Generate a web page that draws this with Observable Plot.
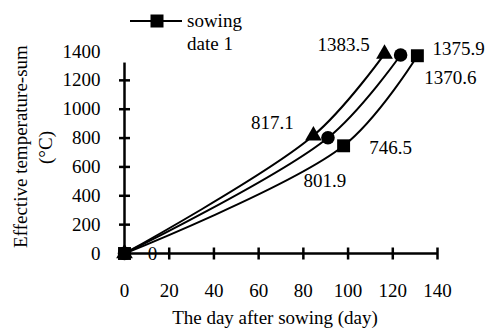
<!DOCTYPE html>
<html>
<head>
<meta charset="utf-8">
<script src="https://cdn.jsdelivr.net/npm/d3@7"></script>
<script src="https://cdn.jsdelivr.net/npm/@observablehq/plot@0.6"></script>
<style>
  html, body { margin: 0; padding: 0; background: #fff; }
  svg { font-family: "Liberation Serif", "Times New Roman", serif; }
</style>
</head>
<body>
<div id="chart"></div>
<script>
// ---- data ----
const seriesNames = ["sowing date 1", "sowing date 2", "sowing date 3"];
const days1 = [0, 98, 131];
const sums1 = [0, 746.5, 1370.6];
const days2 = [0, 91, 123.5];
const sums2 = [0, 801.9, 1375.9];
const days3 = [0, 84.5, 116.3];
const sums3 = [0, 817.1, 1383.5];
const xTicks = [0, 20, 40, 60, 80, 100, 120, 140];
const yTicks = [0, 200, 400, 600, 800, 1000, 1200, 1400];
const xTitle = "The day after sowing (day)";
const yTitle = "Effective temperature-sum";
const yUnit = "(°C)";

// label placement (pixel offsets), kept apart from the data
const labelOffsets1 = [[28, 0], [47, 2], [33, 22]];
const labelOffsets2 = [null, [-3, 43], [58, -6]];
const labelOffsets3 = [null, [-41, -13], [-41, -9]];

const symbols = ["square", "circle", "triangle"];
const allDays = [days1, days2, days3];
const allSums = [sums1, sums2, sums3];
const allOffsets = [labelOffsets1, labelOffsets2, labelOffsets3];

const points = [];
allDays.forEach((ds, s) => ds.forEach((d, i) => points.push({
  series: seriesNames[s], s, i, day: d, sum: allSums[s][i],
  off: allOffsets[s][i]
})));
const labels = points.filter(p => p.off);

const font = 19;
const vTick = { draw(ctx) { ctx.moveTo(0, -6); ctx.lineTo(0, 6); } };
const hTick = { draw(ctx) { ctx.moveTo(-5.5, 0); ctx.lineTo(5.5, 0); } };

const marks = [
  Plot.ruleY([0], { x1: 0, x2: 140, stroke: "black", strokeWidth: 2.5 }),
  Plot.ruleX([0], { y1: 0, y2: 1320, stroke: "black", strokeWidth: 2.5 }),
  Plot.dot(xTicks.filter(d => d > 0), { x: d => d, y: 0, symbol: vTick, stroke: "black", strokeWidth: 2.5, r: 4 }),
  Plot.dot(yTicks.filter(d => d > 0 && d < 1320), { x: 0, y: d => d, symbol: hTick, stroke: "black", strokeWidth: 2.5, r: 4 }),
  Plot.text(xTicks, { x: d => d, y: 0, text: d => String(d), dy: 37, fontSize: font, fill: "black" }),
  Plot.text(yTicks, { x: 0, y: d => d, text: d => String(d), dx: -24, textAnchor: "end", fontSize: font, fill: "black" }),
  Plot.line(points, { x: "day", y: "sum", z: "series", curve: "catmull-rom", stroke: "black", strokeWidth: 2 })
];
[2, 1, 0].forEach(s => {
  const sym = symbols[s];
  marks.push(Plot.dot(points.filter(p => p.s === s), {
    x: "day", y: "sum", symbol: sym, fill: "black", stroke: "none",
    r: sym === "square" ? 7.3 : sym === "circle" ? 6.8 : 6.2
  }));
});
labels.forEach(p => {
  marks.push(Plot.text([p], {
    x: "day", y: "sum", text: d => String(d.sum), dx: p.off[0], dy: p.off[1],
    fontSize: font, fill: "black"
  }));
});
marks.push(
  Plot.text([xTitle], { frameAnchor: "bottom", text: d => d, dy: 70, dx: -6, fontSize: font, fill: "black", textAnchor: "middle" }),
  Plot.text([yTitle], { frameAnchor: "left", text: d => d, rotate: -90, dx: -104, dy: -6, fontSize: font, fill: "black", textAnchor: "middle" }),
  Plot.text([yUnit], { frameAnchor: "left", text: d => d, rotate: -90, dx: -79, dy: -5, fontSize: font, fill: "black", textAnchor: "middle" })
);

const chart = Plot.plot({
  width: 487,
  height: 331,
  marginLeft: 124,
  marginRight: 50,
  marginTop: 51,
  marginBottom: 78,
  style: { fontFamily: "'Liberation Serif', 'Times New Roman', serif", background: "white", overflow: "visible" },
  x: { domain: [0, 140], axis: null },
  y: { domain: [0, 1400], axis: null },
  marks
});
document.getElementById("chart").append(chart);

// legend (only first series shown, as in the original)
const svg = d3.select(chart);
const lg = svg.append("g").attr("font-size", font).attr("fill", "black").attr("text-anchor", "start");
lg.append("line").attr("x1", 130).attr("x2", 182).attr("y1", 21).attr("y2", 21).attr("stroke", "black").attr("stroke-width", 2);
lg.append("rect").attr("x", 150.5).attr("y", 14.5).attr("width", 13).attr("height", 13).attr("fill", "black");
lg.append("text").attr("x", 187).attr("y", 27).text("sowing");
lg.append("text").attr("x", 187).attr("y", 50).text("date 1");
</script>
</body>
</html>
